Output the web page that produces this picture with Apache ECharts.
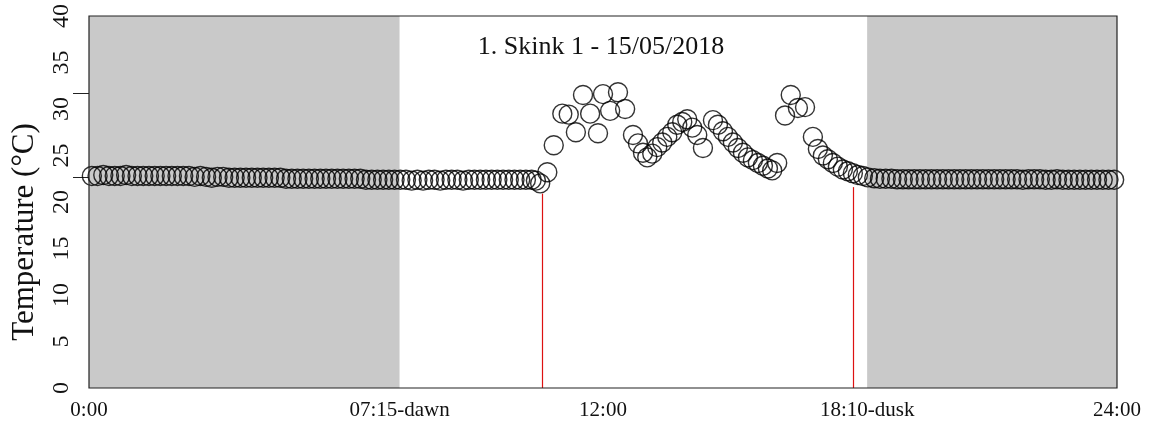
<!DOCTYPE html>
<html>
<head>
<meta charset="utf-8">
<script src="https://cdn.jsdelivr.net/npm/echarts@6/dist/echarts.min.js"></script>
<style>
  html, body { margin: 0; padding: 0; background: #ffffff; }
  #chart { width: 1149px; height: 428px; }
</style>
</head>
<body>
<div id="chart"></div>
<script>
// ---- data -------------------------------------------------------------
const chartTitle = '1. Skink 1 - 15/05/2018';
const yAxisTitle = 'Temperature (°C)';

// x axis: hours of the day
const xTickHours  = [0, 7.25, 12, 18 + 10 / 60, 24];
const xTickLabels = ['0:00', '07:15-dawn', '12:00', '18:10-dusk', '24:00'];
const dawnHour = 7.25;
const duskHour = 18 + 10 / 60;

// y axis: temperature
const yMin = 0, yMax = 40, yStep = 5;
const yMarkTicks = [22.65, 31.7];

// overnight logger readings, every 8 min from 00:04
const loggerStepMin = 8;
const morningStartMin = 4;
const morningTemps = [
  22.8, 22.8, 22.9, 22.8, 22.8, 22.8, 22.9, 22.8, 22.8, 22.8,
  22.8, 22.8, 22.8, 22.8, 22.8, 22.8, 22.8, 22.8, 22.7, 22.8,
  22.7, 22.6, 22.7, 22.7, 22.6, 22.6, 22.6, 22.6, 22.6, 22.6,
  22.6, 22.6, 22.6, 22.6, 22.5, 22.5, 22.5, 22.5, 22.5, 22.5,
  22.5, 22.5, 22.5, 22.5, 22.5, 22.5, 22.5, 22.5, 22.4, 22.4,
  22.4, 22.4, 22.4, 22.4, 22.4, 22.4, 22.3, 22.4, 22.3, 22.4,
  22.4, 22.3, 22.4, 22.4, 22.4, 22.3, 22.4, 22.4, 22.4, 22.4,
  22.4, 22.4, 22.4, 22.4, 22.4, 22.4, 22.4, 22.4
];

// daytime readings (minute of day, °C)
const dayMinutes = [
  626, 632, 642, 651, 663, 672, 682, 692, 702, 713,
  720, 730, 741, 751, 762, 769, 776, 782, 789, 796,
  803, 810, 817, 824, 831, 838, 845, 852, 860, 874,
  881, 888, 895, 902, 909, 916, 923, 930, 937, 944,
  951, 957, 964, 975, 983, 993, 1003, 1014, 1021, 1028,
  1035, 1042, 1049, 1056, 1063, 1070, 1077, 1084, 1091
];
const dayTemps = [
  22.3, 22.0, 23.2, 26.1, 29.5, 29.4, 27.5, 31.5, 29.5, 27.4,
  31.6, 29.8, 31.8, 30.0, 27.2, 26.3, 25.3, 24.8, 25.2, 25.9,
  26.4, 27.0, 27.5, 28.3, 28.6, 28.9, 28.0, 27.2, 25.8, 28.8,
  28.3, 27.6, 27.0, 26.4, 25.8, 25.3, 24.8, 24.5, 24.2, 23.9,
  23.6, 23.4, 24.2, 29.3, 31.5, 30.1, 30.2, 27.0, 25.7, 25.0,
  24.6, 24.2, 23.8, 23.5, 23.3, 23.1, 22.9, 22.8, 22.65
];

// evening logger readings, every 8 min from 18:20
const eveningStartMin = 1100;
const eveningTemps = [
  22.55, 22.5, 22.5, 22.5, 22.45, 22.45, 22.45, 22.45, 22.45, 22.45,
  22.45, 22.45, 22.45, 22.45, 22.45, 22.45, 22.45, 22.45, 22.45, 22.45,
  22.45, 22.45, 22.45, 22.45, 22.45, 22.45, 22.4, 22.45, 22.45, 22.45,
  22.4, 22.4, 22.45, 22.4, 22.4, 22.4, 22.4, 22.4, 22.4, 22.4,
  22.4, 22.4, 22.4
];

// emergence / retreat markers: hour and top of the line in °C
const activityHours = [10.57, 17.84];
const activityTops  = [20.9, 21.6];

// ---- build series -----------------------------------------------------
const points = [];
morningTemps.forEach((t, i) => points.push([(morningStartMin + i * loggerStepMin) / 60, t]));
dayMinutes.forEach((m, i) => points.push([m / 60, dayTemps[i]]));
eveningTemps.forEach((t, i) => points.push([(eveningStartMin + i * loggerStepMin) / 60, t]));

const activityData = activityHours.map((h, i) => [h, activityTops[i]]);

const FONT = '"Liberation Serif", "Times New Roman", serif';
const INK = '#111111';
const RED = '#dd1111';

const chart = echarts.init(document.getElementById('chart'), null, { renderer: 'canvas' });

chart.setOption({
  animation: false,
  backgroundColor: '#ffffff',
  title: {
    text: chartTitle,
    left: 596,
    top: 29,
    textAlign: 'center',
    textStyle: { fontFamily: FONT, fontSize: 26, fontWeight: 'normal', color: INK }
  },
  grid: {
    left: 89, right: 32, top: 16, bottom: 40,
    show: true, z: 10,
    backgroundColor: 'transparent',
    borderColor: '#222222', borderWidth: 1.2
  },
  xAxis: {
    type: 'value',
    min: 0, max: 24,
    axisLine: { show: false },
    axisTick: { show: false },
    splitLine: { show: false },
    axisLabel: {
      customValues: xTickHours,
      margin: 12,
      fontFamily: FONT, fontSize: 21, color: INK,
      formatter: v => {
        const i = xTickHours.findIndex(h => Math.abs(h - v) < 1e-6);
        return i >= 0 ? xTickLabels[i] : '';
      }
    }
  },
  yAxis: {
    type: 'value',
    min: yMin, max: yMax, interval: yStep,
    name: yAxisTitle,
    nameLocation: 'middle',
    nameRotate: 90,
    nameGap: 49,
    nameTextStyle: { fontFamily: FONT, fontSize: 31, color: INK, padding: [0, 60, 0, 0] },
    axisLine: { show: false },
    splitLine: { show: false },
    axisTick: {
      show: true,
      customValues: yMarkTicks,
      length: 16,
      lineStyle: { color: '#222222', width: 1 }
    },
    axisLabel: {
      rotate: 90,
      margin: 15,
      fontFamily: FONT, fontSize: 24, color: INK
    }
  },
  series: [
    {
      // night shading
      type: 'line',
      data: [],
      z: 1,
      silent: true,
      markArea: {
        silent: true,
        itemStyle: { color: '#c9c9c9' },
        data: [
          [{ xAxis: 0 }, { xAxis: dawnHour }],
          [{ xAxis: duskHour }, { xAxis: 24 }]
        ]
      }
    },
    {
      // emergence / retreat lines, drawn from 0 °C up to the given top
      type: 'custom',
      data: activityData,
      z: 2,
      silent: true,
      renderItem: (params, api) => {
        const base = api.coord([api.value(0), 0]);
        const top = api.coord([api.value(0), api.value(1)]);
        const x = Math.round(base[0]) + 0.5;
        return {
          type: 'line',
          shape: { x1: x, y1: base[1], x2: x, y2: top[1] },
          style: { stroke: RED, lineWidth: 1.2 }
        };
      }
    },
    {
      type: 'scatter',
      data: points,
      z: 3,
      symbol: 'circle',
      symbolSize: 19,
      itemStyle: { color: 'rgba(0,0,0,0)', borderColor: '#000000', borderWidth: 1.4 },
      emphasis: { disabled: true },
      silent: true
    }
  ]
});
</script>
</body>
</html>
